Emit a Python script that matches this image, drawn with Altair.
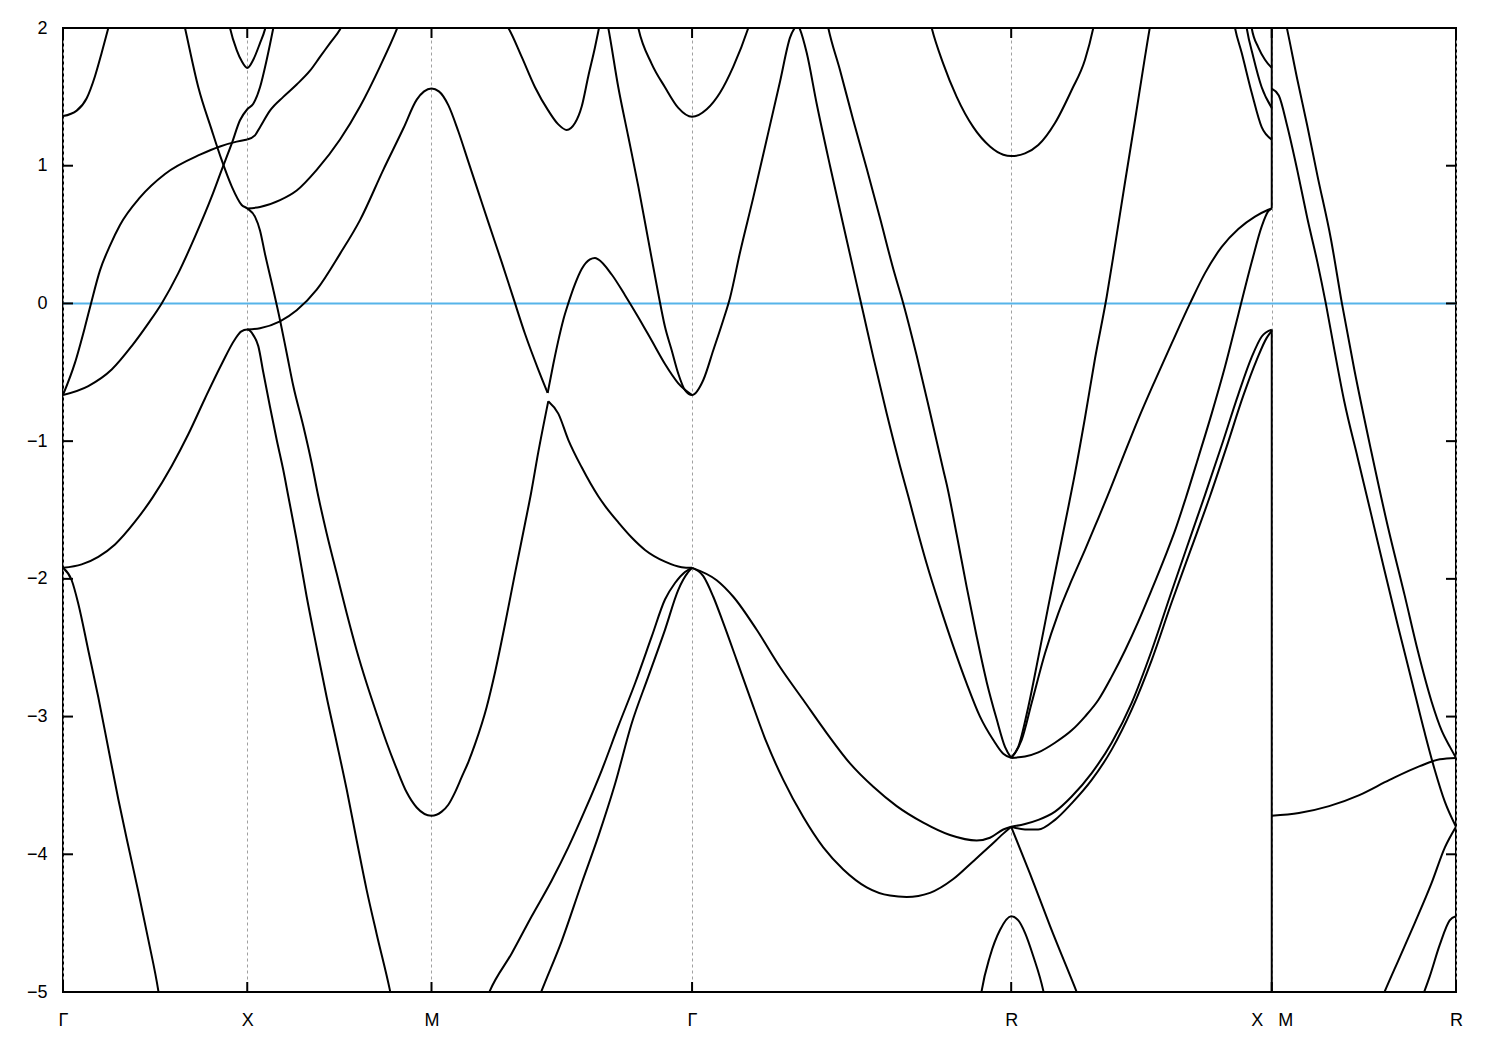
import json
import altair as alt
import pandas as pd

# ---------------- axis / reference data ----------------
SYM_K = [0.0, 0.5, 1.0, 1.7071, 2.5731, 3.2802, 3.7802]
SYM_LABELS = ["Γ", "X", "M", "Γ", "R", "X\u00a0\u00a0\u00a0M", "R"]
Y_TICKS = [-5, -4, -3, -2, -1, 0, 1, 2]
E_FERMI = 0.0
JUMP_K = 3.2802
JUMP_FROM = [2.0, -0.19]
JUMP_TO = [0.69, -5.0]

# ---------------- bands: Gamma - X ----------------
gx_a_k = [0.0, 0.0372, 0.0643, 0.0868, 0.105, 0.123, 0.138]
gx_a_e = [1.36, 1.40, 1.49, 1.65, 1.82, 2.0, 2.15]
gx_b_k = [0.0, 0.0326, 0.0597, 0.0760, 0.1004, 0.1275, 0.1547, 0.2090, 0.2768, 0.3718, 0.4261, 0.4714, 0.5]
gx_b_e = [-0.665, -0.43, -0.17, 0.0, 0.24, 0.42, 0.57, 0.77, 0.94, 1.08, 1.14, 1.175, 1.19]
gx_c_k = [0.0, 0.0687, 0.1322, 0.1864, 0.2315, 0.2678, 0.3129, 0.3582, 0.4035, 0.4307, 0.4578, 0.4803, 0.5]
gx_c_e = [-0.665, -0.60, -0.48, -0.31, -0.145, 0.0, 0.22, 0.485, 0.775, 0.97, 1.16, 1.33, 1.41]
gx_d_k = [0.3202, 0.3311, 0.3672, 0.4035, 0.4307, 0.4578, 0.4849, 0.5]
gx_d_e = [2.13, 2.0, 1.57, 1.26, 1.04, 0.85, 0.715, 0.69]
gx_n_k = [0.0, 0.0507, 0.0958, 0.1411, 0.1954, 0.2429, 0.2950, 0.3400, 0.3853, 0.4307, 0.4668, 0.4830, 0.5]
gx_n_e = [-1.92, -1.895, -1.84, -1.75, -1.585, -1.41, -1.18, -0.95, -0.69, -0.44, -0.26, -0.205, -0.19]
gx_o_k = [0.0, 0.0236, 0.0415, 0.0687, 0.0958, 0.1229, 0.1501, 0.1772, 0.2043, 0.2315, 0.2586, 0.2632]
gx_o_e = [-1.92, -2.01, -2.18, -2.52, -2.86, -3.23, -3.60, -3.94, -4.27, -4.62, -4.99, -5.07]
x_q_k = [0.4478, 0.4532, 0.4714, 0.4849, 0.5, 0.5164, 0.5346, 0.5481, 0.5536]
x_q_e = [2.07, 2.0, 1.84, 1.76, 1.71, 1.77, 1.89, 1.99, 2.05]

# ---------------- bands: X - M ----------------
xm_b_k = [0.5, 0.5209, 0.5346, 0.5617, 0.5978, 0.6342, 0.6703, 0.6974, 0.7246, 0.7517, 0.7707]
xm_b_e = [1.19, 1.22, 1.28, 1.40, 1.50, 1.59, 1.69, 1.79, 1.89, 1.99, 2.09]
xm_c_k = [0.5, 0.5164, 0.5346, 0.5528, 0.5707, 0.5794]
xm_c_e = [1.41, 1.45, 1.57, 1.77, 2.0, 2.12]
xm_d_k = [0.5, 0.5209, 0.5346, 0.5481, 0.5707, 0.5889, 0.6070, 0.6250, 0.6521, 0.6749, 0.6928, 0.7156,
          0.7427, 0.7699, 0.7970, 0.8241, 0.8513, 0.8784, 0.9056, 0.9327, 0.9598, 1.0]
xm_d_e = [0.69, 0.63, 0.53, 0.36, 0.10, -0.12, -0.36, -0.60, -0.89, -1.16, -1.40, -1.67,
          -1.96, -2.25, -2.52, -2.76, -2.98, -3.19, -3.38, -3.55, -3.66, -3.72]
xm_up_k = [0.5, 0.5346, 0.5889, 0.6342, 0.6885, 0.7517, 0.8060, 0.8602, 0.9056, 0.9145]
xm_up_e = [0.69, 0.70, 0.75, 0.82, 0.97, 1.19, 1.43, 1.72, 1.99, 2.05]
xm_f_k = [0.5, 0.5346, 0.5889, 0.6342, 0.6885, 0.7517, 0.8060, 0.8692, 0.9235, 0.9600, 0.9800, 1.0]
xm_f_e = [-0.19, -0.18, -0.13, -0.05, 0.10, 0.36, 0.605, 0.97, 1.27, 1.48, 1.54, 1.56]
xm_p_k = [0.5, 0.5164, 0.5300, 0.5435, 0.5617, 0.5799, 0.5978, 0.6114, 0.6342, 0.6613, 0.6885, 0.7156,
          0.7427, 0.7699, 0.7970, 0.8241, 0.8513, 0.8874, 0.8928]
xm_p_e = [-0.19, -0.23, -0.31, -0.50, -0.75, -0.99, -1.21, -1.40, -1.72, -2.13, -2.50, -2.86,
          -3.19, -3.53, -3.90, -4.26, -4.58, -4.99, -5.06]

# ---------------- bands: M - Gamma ----------------
mg_f_k = [1.0, 1.0200, 1.0456, 1.0727, 1.0999, 1.1270, 1.1541, 1.1905, 1.2220, 1.2537, 1.2898, 1.3153]
mg_f_e = [1.56, 1.54, 1.44, 1.25, 1.03, 0.81, 0.59, 0.30, 0.04, -0.22, -0.48, -0.65]
mg_g_k = [1.3153, 1.3306, 1.3441, 1.3576, 1.3712, 1.3894, 1.4076, 1.4301, 1.4436, 1.4526, 1.4890, 1.5251,
          1.5612, 1.5975, 1.6336, 1.6697, 1.7071]
mg_g_e = [-0.65, -0.44, -0.27, -0.12, 0.0, 0.14, 0.25, 0.32, 0.33, 0.32, 0.21, 0.06,
          -0.10, -0.27, -0.44, -0.58, -0.665]
mg_hl_k = [1.0, 1.0277, 1.0456, 1.0638, 1.0819, 1.1000, 1.1181, 1.1498, 1.1723, 1.1995, 1.2266, 1.2537, 1.2700, 1.2898, 1.3169]
mg_hl_e = [-3.72, -3.69, -3.64, -3.55, -3.44, -3.33, -3.20, -2.93, -2.68, -2.33, -1.96, -1.60, -1.38, -1.08, -0.71]
mg_hr_k = [1.3169, 1.3441, 1.3712, 1.4076, 1.4526, 1.4708, 1.5069, 1.5432, 1.5794, 1.6336, 1.6789, 1.7071]
mg_hr_e = [-0.71, -0.80, -0.99, -1.19, -1.40, -1.47, -1.59, -1.70, -1.79, -1.875, -1.915, -1.92]
mg_i_k = [1.1737, 1.2084, 1.2448, 1.2809, 1.3170, 1.3441, 1.3669, 1.3894, 1.4076, 1.4255, 1.4437, 1.4545, 1.4613]
mg_i_e = [2.10, 2.0, 1.79, 1.57, 1.40, 1.30, 1.26, 1.31, 1.43, 1.65, 1.86, 2.0, 2.09]
mg_j_k = [1.4708, 1.4798, 1.5069, 1.5341, 1.5612, 1.5883, 1.6155, 1.6336, 1.6518, 1.6697, 1.6879, 1.7071]
mg_j_e = [2.12, 2.0, 1.57, 1.21, 0.85, 0.46, 0.07, -0.17, -0.34, -0.51, -0.63, -0.665]
g_k_k = [1.5549, 1.5612, 1.5975, 1.6336, 1.6697, 1.7071, 1.7468, 1.7829, 1.8190, 1.8597, 1.8670]
g_k_e = [2.08, 2.0, 1.74, 1.57, 1.42, 1.355, 1.41, 1.53, 1.72, 2.0, 2.06]
mg_l_k = [1.1479, 1.1587, 1.2176, 1.2719, 1.3262, 1.3712, 1.4165, 1.4619, 1.5069, 1.5522, 1.5975, 1.6336, 1.6608, 1.6879, 1.7071]
mg_l_e = [-5.06, -4.99, -4.72, -4.45, -4.19, -3.95, -3.68, -3.39, -3.07, -2.76, -2.42, -2.15, -2.03, -1.95, -1.92]
mg_m_k = [1.2890, 1.2990, 1.3533, 1.4076, 1.4526, 1.4980, 1.5432, 1.5883, 1.6336, 1.6697, 1.6969, 1.7071]
mg_m_e = [-5.06, -4.99, -4.63, -4.21, -3.87, -3.49, -3.05, -2.71, -2.37, -2.08, -1.95, -1.92]

# ---------------- bands: Gamma - R ----------------
gr_1_k = [1.7071, 1.7376, 1.7647, 1.7918, 1.8100, 1.8372, 1.8733, 1.9096, 1.9457, 1.9729, 1.9932]
gr_1_e = [-0.665, -0.556, -0.34, -0.12, 0.04, 0.37, 0.77, 1.19, 1.61, 1.93, 2.03]
gr_2_k = [1.9932, 2.0000, 2.0182, 2.0453, 2.0814, 2.1175, 2.1539, 2.1718, 2.1989, 2.2353, 2.2714, 2.2939,
          2.3167, 2.3438, 2.3799, 2.4160, 2.4524, 2.4885, 2.5246, 2.5517, 2.5731]
gr_2_e = [2.03, 1.99, 1.82, 1.45, 1.00, 0.57, 0.14, -0.07, -0.39, -0.80, -1.18, -1.40,
          -1.63, -1.89, -2.20, -2.49, -2.76, -3.00, -3.17, -3.27, -3.30]
gr_3_k = [2.0706, 2.0768, 2.1085, 2.1446, 2.1810, 2.2171, 2.2532, 2.2803, 2.3167, 2.3528, 2.3889, 2.4003,
          2.4253, 2.4524, 2.4796, 2.5067, 2.5338, 2.5563, 2.5731]
gr_3_e = [2.08, 2.0, 1.695, 1.33, 0.98, 0.62, 0.25, 0.0, -0.38, -0.79, -1.21, -1.34,
          -1.68, -2.06, -2.42, -2.75, -3.02, -3.22, -3.30]
r_4_k = [2.3501, 2.3574, 2.3889, 2.4252, 2.4703, 2.5156, 2.5517, 2.5731, 2.6106, 2.6467, 2.6920, 2.7373, 2.7734, 2.7959, 2.8005]
r_4_e = [2.08, 2.0, 1.74, 1.50, 1.28, 1.14, 1.08, 1.07, 1.09, 1.15, 1.31, 1.55, 1.77, 2.0, 2.06]
gr_5_k = [1.7071, 1.7739, 1.8190, 1.8825, 1.9457, 2.0090, 2.0725, 2.1357, 2.1990, 2.2624, 2.3346, 2.4070, 2.4795, 2.5156, 2.5517, 2.5731]
gr_5_e = [-1.92, -2.01, -2.13, -2.37, -2.64, -2.88, -3.12, -3.34, -3.51, -3.65, -3.77, -3.86, -3.90, -3.88, -3.82, -3.80]
gr_6_k = [1.7071, 1.7376, 1.7647, 1.7918, 1.8282, 1.8643, 1.9096, 1.9547, 2.0090, 2.0632, 2.1175, 2.1810,
          2.2442, 2.2895, 2.3528, 2.4160, 2.4703, 2.5156, 2.5517, 2.5731]
gr_6_e = [-1.92, -1.98, -2.13, -2.32, -2.59, -2.86, -3.19, -3.46, -3.73, -3.95, -4.11, -4.24,
          -4.30, -4.31, -4.28, -4.18, -4.05, -3.94, -3.85, -3.80]
r_7_k = [2.4885, 2.4931, 2.5156, 2.5427, 2.5731, 2.5924, 2.6106, 2.6331, 2.6602, 2.6649]
r_7_e = [-5.07, -4.99, -4.74, -4.55, -4.45, -4.48, -4.57, -4.74, -4.99, -5.05]

# ---------------- bands: R - X ----------------
rx_1_k = [2.5731, 2.5924, 2.6195, 2.6467, 2.6738, 2.7009, 2.7281, 2.7436, 2.7734, 2.8006, 2.8324, 2.8548,
          2.8820, 2.9091, 2.9362, 2.9498, 2.9552]
rx_1_e = [-3.30, -3.22, -2.93, -2.57, -2.20, -1.84, -1.48, -1.27, -0.83, -0.40, 0.05, 0.42,
          0.88, 1.33, 1.79, 2.01, 2.09]
rx_2_k = [2.5731, 2.6016, 2.6288, 2.6649, 2.7009, 2.7373, 2.7734, 2.8095, 2.8344, 2.8730, 2.9180, 2.9634,
          3.0087, 3.0584, 3.0991, 3.1444, 3.1895, 3.2347, 3.2708, 3.2802]
rx_2_e = [-3.30, -3.17, -2.90, -2.54, -2.25, -2.01, -1.79, -1.56, -1.40, -1.14, -0.84, -0.56,
          -0.29, 0.0, 0.22, 0.41, 0.54, 0.63, 0.68, 0.69]
rx_3_k = [2.5731, 2.6106, 2.6467, 2.6920, 2.7373, 2.7734, 2.8095, 2.8458, 2.8820, 2.9180, 2.9542, 2.9905,
          3.0176, 3.0461, 3.0808, 3.1172, 3.1533, 3.1895, 3.2258, 3.2530, 3.2708, 3.2802]
rx_3_e = [-3.30, -3.29, -3.26, -3.19, -3.10, -3.00, -2.88, -2.71, -2.52, -2.31, -2.08, -1.84,
          -1.65, -1.42, -1.12, -0.80, -0.46, -0.08, 0.30, 0.56, 0.67, 0.69]
rx_4_k = [2.5731, 2.6106, 2.6467, 2.6920, 2.7373, 2.7916, 2.8458, 2.9001, 2.9544, 3.0087, 3.0629, 3.0991,
          3.1444, 3.1895, 3.2258, 3.2530, 3.2802]
rx_4_e = [-3.80, -3.78, -3.75, -3.69, -3.58, -3.41, -3.19, -2.90, -2.52, -2.09, -1.67, -1.39,
          -1.03, -0.66, -0.39, -0.24, -0.19]
rx_5_k = [2.5731, 2.6106, 2.6467, 2.6920, 2.7373, 2.7916, 2.8458, 2.9001, 2.9544, 3.0087, 3.0629, 3.1126,
          3.1579, 3.2030, 3.2394, 3.2665, 3.2802]
rx_5_e = [-3.80, -3.82, -3.82, -3.75, -3.63, -3.46, -3.24, -2.95, -2.59, -2.17, -1.77, -1.40,
          -1.04, -0.67, -0.41, -0.25, -0.20]
rx_6_k = [2.5731, 2.6241, 2.6784, 2.7509, 2.7598]
rx_6_e = [-3.80, -4.14, -4.52, -5.0, -5.06]
rx_t1_k = [3.1750, 3.1805, 3.1986, 3.2258, 3.2529, 3.2802]
rx_t1_e = [2.08, 2.0, 1.82, 1.53, 1.28, 1.19]
rx_t2_k = [3.2076, 3.2122, 3.2301, 3.2529, 3.2802]
rx_t2_e = [2.08, 2.0, 1.79, 1.57, 1.42]
rx_t3_k = [3.2225, 3.2258, 3.2437, 3.2619, 3.2802]
rx_t3_e = [2.06, 2.0, 1.86, 1.77, 1.71]

# ---------------- bands: M - R ----------------
mr_1_k = [3.2802, 3.2993, 3.3220, 3.3493, 3.3766, 3.4040, 3.4269, 3.4496, 3.4769, 3.5133, 3.5499, 3.5862,
          3.6225, 3.6591, 3.6955, 3.7228, 3.7501, 3.7802]
mr_1_e = [1.56, 1.51, 1.29, 0.97, 0.62, 0.30, 0.0, -0.33, -0.71, -1.12, -1.53, -1.94,
          -2.34, -2.73, -3.12, -3.39, -3.62, -3.80]
mr_2_k = [3.3130, 3.3220, 3.3493, 3.3766, 3.4040, 3.4406, 3.4706, 3.5042, 3.5499, 3.5952, 3.6409, 3.6772,
          3.7138, 3.7411, 3.7638, 3.7802]
mr_2_e = [2.1, 1.99, 1.63, 1.29, 0.93, 0.47, 0.0, -0.48, -1.07, -1.62, -2.12, -2.53,
          -2.89, -3.10, -3.22, -3.30]
mr_3_k = [3.2802, 3.3540, 3.4359, 3.5179, 3.5999, 3.6818, 3.7365, 3.7802]
mr_3_e = [-3.72, -3.70, -3.65, -3.57, -3.46, -3.36, -3.31, -3.30]
mr_4_k = [3.5753, 3.5862, 3.6272, 3.6682, 3.7138, 3.7501, 3.7802]
mr_4_e = [-5.07, -5.0, -4.75, -4.50, -4.21, -3.95, -3.80]
mr_5_k = [3.6811, 3.7085, 3.7358, 3.7631, 3.7802]
mr_5_e = [-5.09, -4.89, -4.66, -4.48, -4.45]

# continuous bands that run smoothly through a high-symmetry point are joined
BANDS = {
    "a": (gx_a_k, gx_a_e),
    "b1": (gx_b_k, gx_b_e),
    "b2": (xm_b_k, xm_b_e),
    "c": (gx_c_k + xm_c_k[1:], gx_c_e + xm_c_e[1:]),
    "d": (gx_d_k + xm_d_k[1:] + mg_hl_k[1:], gx_d_e + xm_d_e[1:] + mg_hl_e[1:]),
    "np": (gx_n_k + xm_p_k[1:], gx_n_e + xm_p_e[1:]),
    "o": (gx_o_k, gx_o_e),
    "q": (x_q_k, x_q_e),
    "up": (xm_up_k, xm_up_e),
    "f": (xm_f_k + mg_f_k[1:], xm_f_e + mg_f_e[1:]),
    "g": (mg_g_k, mg_g_e),
    "hr": (mg_hr_k, mg_hr_e),
    "i": (mg_i_k, mg_i_e),
    "j1": (mg_j_k + gr_1_k[1:], mg_j_e + gr_1_e[1:]),
    "k": (g_k_k, g_k_e),
    "l": (mg_l_k, mg_l_e),
    "m": (mg_m_k, mg_m_e),
    "gr2": (gr_2_k, gr_2_e), "gr3": (gr_3_k, gr_3_e), "r4": (r_4_k, r_4_e),
    "gr5": (gr_5_k, gr_5_e), "gr6": (gr_6_k, gr_6_e), "r7": (r_7_k, r_7_e),
    "rx1": (rx_1_k, rx_1_e), "rx2": (rx_2_k, rx_2_e), "rx3": (rx_3_k, rx_3_e),
    "rx4": (rx_4_k, rx_4_e), "rx5": (rx_5_k, rx_5_e), "rx6": (rx_6_k, rx_6_e),
    "rxt1": (rx_t1_k, rx_t1_e), "rxt2": (rx_t2_k, rx_t2_e), "rxt3": (rx_t3_k, rx_t3_e),
    "mr1": (mr_1_k, mr_1_e), "mr2": (mr_2_k, mr_2_e), "mr3": (mr_3_k, mr_3_e),
    "mr4": (mr_4_k, mr_4_e), "mr5": (mr_5_k, mr_5_e),
}

rows = []
for name, (ks, es) in BANDS.items():
    for i, (k, e) in enumerate(zip(ks, es)):
        rows.append({"band": name, "k": k, "E": e, "i": i})
band_df = pd.DataFrame(rows)

# ---------------- chart ----------------
W, H = 1393, 964
FONT = "Liberation Sans"
K_MIN, K_MAX = SYM_K[0], SYM_K[-1]

label_expr = "''"
for k, lab in reversed(list(zip(SYM_K, SYM_LABELS))):
    label_expr = f"abs(datum.value - {k}) < 0.01 ? {json.dumps(lab, ensure_ascii=False)} : ({label_expr})"

x_scale = alt.Scale(domain=[K_MIN, K_MAX], nice=False, zero=False)
y_scale = alt.Scale(domain=[Y_TICKS[0], Y_TICKS[-1]], nice=False, zero=False)

x_axis = alt.Axis(values=SYM_K, labelExpr=label_expr, title=None, ticks=False, tickSize=0,
                  domain=False, grid=True, gridColor="#a0a0a0", gridDash=[3, 3], gridWidth=1,
                  labelFont=FONT, labelFontSize=18, labelColor="black", labelPadding=19,
                  labelAngle=0, labelOverlap=False, labelFlush=False)
y_axis = alt.Axis(values=Y_TICKS, title=None, ticks=False, tickSize=0, domain=False, grid=False,
                  labelFont=FONT, labelFontSize=18, labelColor="black", labelPadding=16, format="d",
                  labelOverlap=False, labelFlush=False)

X_ENC = alt.X("k:Q", scale=x_scale, axis=x_axis)
Y_ENC = alt.Y("E:Q", scale=y_scale, axis=y_axis)

fermi = alt.Chart(pd.DataFrame({"E": [E_FERMI]})).mark_rule(color="#56b4e9", strokeWidth=2).encode(
    y=Y_ENC
)

bands = alt.Chart(band_df).mark_line(color="black", strokeWidth=2, interpolate="monotone", clip=True).encode(
    x=X_ENC,
    y=Y_ENC,
    detail="band:N",
    order="i:Q",
)

jump_df = pd.DataFrame({"k": [JUMP_K] * len(JUMP_FROM), "E": JUMP_FROM, "E2": JUMP_TO})
jumps = alt.Chart(jump_df).mark_rule(color="black", strokeWidth=2).encode(
    x=X_ENC, y=Y_ENC, y2="E2:Q",
)

ytick_df = pd.DataFrame({"E": Y_TICKS})
ytick_l = alt.Chart(ytick_df).mark_rule(color="black", strokeWidth=2).encode(
    y=Y_ENC, x=alt.value(0), x2=alt.value(10))
ytick_r = alt.Chart(ytick_df).mark_rule(color="black", strokeWidth=2).encode(
    y=Y_ENC, x=alt.value(W - 10), x2=alt.value(W))

xtick_df = pd.DataFrame({"k": SYM_K})
xtick_b = alt.Chart(xtick_df).mark_rule(color="black", strokeWidth=2).encode(
    x=X_ENC, y=alt.value(H - 10), y2=alt.value(H))
xtick_t = alt.Chart(xtick_df).mark_rule(color="black", strokeWidth=2).encode(
    x=X_ENC, y=alt.value(0), y2=alt.value(10))

chart = alt.layer(fermi, bands, jumps, ytick_l, ytick_r, xtick_b, xtick_t).properties(
    width=W, height=H,
    autosize=alt.AutoSizeParams(type="none"),
    padding={"left": 55, "top": 20, "right": 30, "bottom": 50},
    background="white",
).configure_view(stroke="black", strokeWidth=2)

chart.save("out.html", embed_options={"renderer": "svg", "actions": False})
